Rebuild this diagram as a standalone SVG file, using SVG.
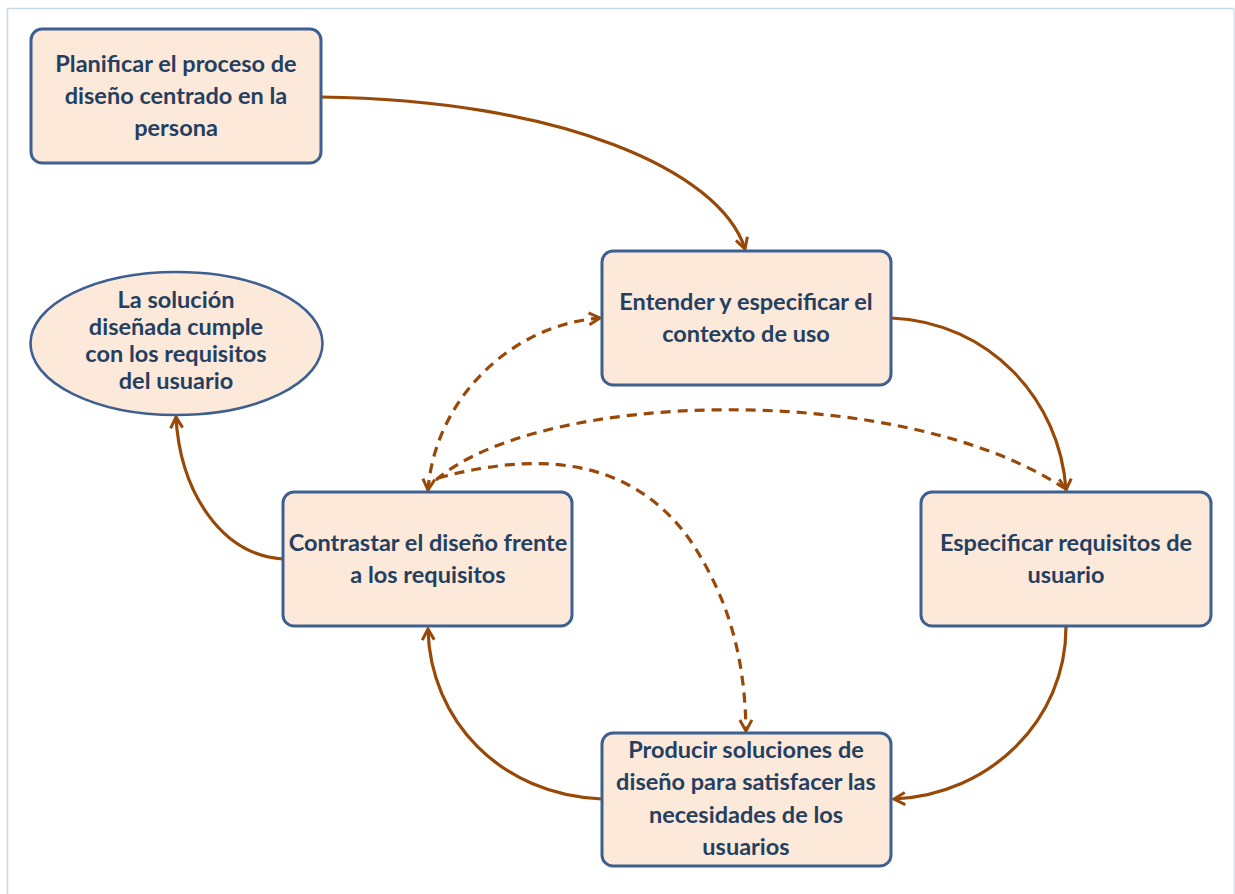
<svg xmlns="http://www.w3.org/2000/svg" width="1235" height="894" viewBox="0 0 1235 894">
<style>
.box{fill:#fde9da;stroke:#3d6090;stroke-width:3}
.t{font-family:Lato,"Liberation Sans",sans-serif;font-weight:bold;font-size:23.5px;fill:#243f60;text-anchor:middle}
.te{font-size:23.5px}
.c{fill:none;stroke:#984807;stroke-width:3.2}
.d{stroke-dasharray:10 7}
</style>
<defs>
<marker id="ah" viewBox="0 0 16 16" refX="14" refY="8" markerWidth="16" markerHeight="16" markerUnits="userSpaceOnUse" orient="auto-start-reverse">
<path d="M3,2 L14,8 L3,14" fill="none" stroke="#984807" stroke-width="3"/>
</marker>
</defs>
<rect x="0" y="0" width="1235" height="894" fill="#ffffff"/>
<path d="M7.5,894 V8.5 H1234" fill="none" stroke="#c5d8e9" stroke-width="1.5"/>
<path d="M1234,8.5 V894" fill="none" stroke="#d4e3f1" stroke-width="1.5"/>
<g id="connectors">
<path class="c" d="M321,97 C560,100 720,170 745,249" marker-end="url(#ah)"/>
<path class="c" d="M891,318 C990,322 1060,400 1066,490" marker-end="url(#ah)"/>
<path class="c" d="M1066,627 C1066,720 990,795 894,799" marker-end="url(#ah)"/>
<path class="c" d="M602,799 C500,795 430,720 428,629" marker-end="url(#ah)"/>
<path class="c" d="M283,559 C220,555 180,490 176,417" marker-end="url(#ah)"/>
<path class="c d" d="M428,490 C435,400 510,325 600,318" marker-start="url(#ah)" marker-end="url(#ah)"/>
<path class="c d" d="M436,480 C540,390 900,380 1064,488"/>
<path class="c d" d="M438,478 C560,445 640,470 690,540 C730,600 745,660 746,731" marker-end="url(#ah)"/>
</g>
<g id="n1"><rect class="box" x="31" y="29" width="290" height="134" rx="11"/>
<text class="t" x="176" y="72">Planificar el proceso de</text>
<text class="t" x="176" y="104">diseño centrado en la</text>
<text class="t" x="176" y="136">persona</text></g>
<g id="n2"><rect class="box" x="602" y="251" width="289" height="134" rx="11"/>
<text class="t" x="746" y="310">Entender y especificar el</text>
<text class="t" x="746" y="342">contexto de uso</text></g>
<g id="n3"><rect class="box" x="921" y="492" width="290" height="134" rx="11"/>
<text class="t" x="1066" y="551">Especificar requisitos de</text>
<text class="t" x="1066" y="583">usuario</text></g>
<g id="n4"><rect class="box" x="602" y="733" width="289" height="133" rx="11"/>
<text class="t" x="746" y="758">Producir soluciones de</text>
<text class="t" x="746" y="790">diseño para satisfacer las</text>
<text class="t" x="746" y="823">necesidades de los</text>
<text class="t" x="746" y="855">usuarios</text></g>
<g id="n5"><rect class="box" x="283" y="492" width="289" height="134" rx="11"/>
<text class="t" x="428" y="551">Contrastar el diseño frente</text>
<text class="t" x="428" y="583">a los requisitos</text></g>
<g id="n6"><ellipse class="box" cx="176.5" cy="343.5" rx="146" ry="71.5" style="stroke-width:2.6"/>
<text class="t te" x="176" y="308">La solución</text>
<text class="t te" x="176" y="335">diseñada cumple</text>
<text class="t te" x="176" y="362">con los requisitos</text>
<text class="t te" x="176" y="389">del usuario</text></g>
</svg>
